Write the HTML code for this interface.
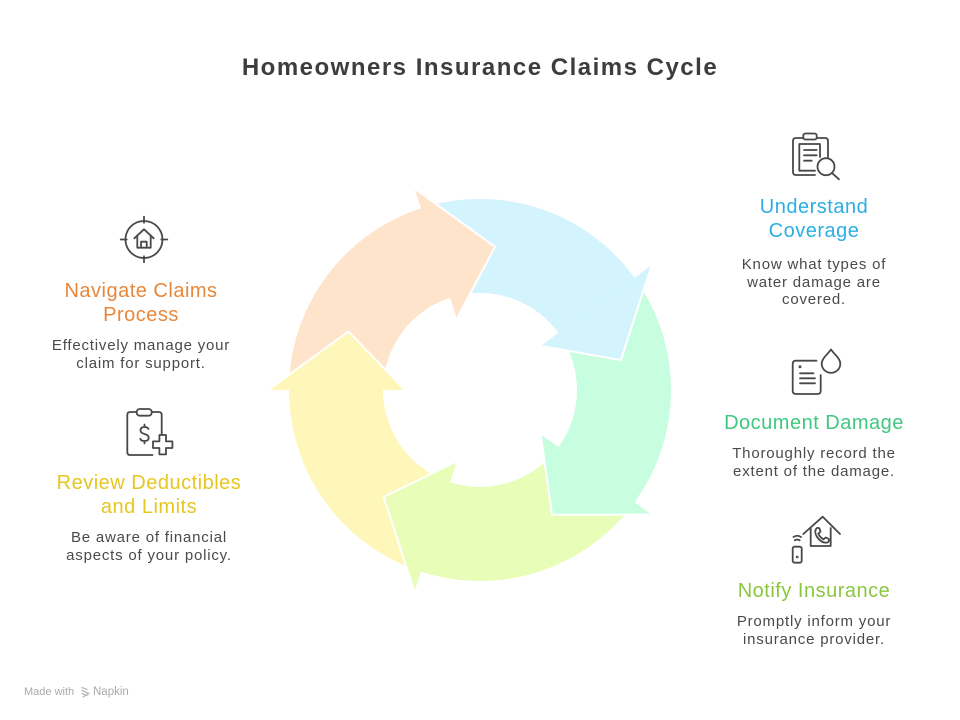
<!DOCTYPE html>
<html>
<head>
<meta charset="utf-8">
<style>
  html,body{margin:0;padding:0;background:#fff;}
  body{width:960px;height:720px;position:relative;overflow:hidden;font-family:"Liberation Sans",sans-serif;}
  svg{position:absolute;left:0;top:0;}
  .t{position:absolute;text-align:center;white-space:nowrap;}
  .title{left:0;width:960px;top:53px;font-size:24px;line-height:30px;font-weight:bold;color:#3d3d3d;letter-spacing:1.5px;}
  .h{font-size:20px;line-height:24px;letter-spacing:0.5px;}
  .d{font-size:15px;line-height:17.5px;letter-spacing:0.8px;color:#4a4a4a;}
  .r{left:694px;width:240px;}
  .l1{left:21px;width:240px;}
  .l2{left:29px;width:240px;}
</style>
</head>
<body>
<svg width="960" height="720" viewBox="0 0 960 720" xmlns="http://www.w3.org/2000/svg">
  <!-- bodies -->
  <path d="M420.98,208.35 A191,191 0 0 1 638.35,283.19 L560.42,335.76 A97,97 0 0 0 450.03,297.75 Z" fill="#d3f3fd"/>
  <path d="M634.52,277.73 A191,191 0 0 1 630.51,507.59 L556.44,449.72 A97,97 0 0 0 558.47,332.98 Z" fill="#c8fee0"/>
  <path d="M634.52,502.27 A191,191 0 0 1 414.67,569.48 L446.82,481.15 A97,97 0 0 0 558.47,447.02 Z" fill="#e8fdb8"/>
  <path d="M420.98,571.65 A191,191 0 0 1 289.12,383.33 L383.06,386.61 A97,97 0 0 0 450.03,482.25 Z" fill="#fff7b9"/>
  <path d="M289,390 A191,191 0 0 1 427.35,206.40 L453.26,296.76 A97,97 0 0 0 383,390 Z" fill="#ffe4cc"/>
  <!-- heads -->
  <polygon points="651.51,265.39 620.85,360.06 540.68,345.92" fill="#d3f3fd"/>
  <polyline points="651.51,265.39 620.85,360.06 540.68,345.92" fill="none" stroke="#fff" stroke-width="2"/>
  <polygon points="651.51,514.61 552,514.71 540.68,434.08" fill="#c8fee0"/>
  <polyline points="651.51,514.61 552,514.71 540.68,434.08" fill="none" stroke="#fff" stroke-width="2"/>
  <polygon points="414.49,591.62 383.65,497.01 456.82,461.33" fill="#e8fdb8"/>
  <polyline points="414.49,591.62 383.65,497.01 456.82,461.33" fill="none" stroke="#fff" stroke-width="2"/>
  <polygon points="268,390 348.45,331.43 405,390" fill="#fff7b9"/>
  <polyline points="268,390 348.45,331.43 405,390" fill="none" stroke="#fff" stroke-width="2"/>
  <polygon points="414.49,188.38 495.05,246.79 456.82,318.67" fill="#ffe4cc"/>
  <polyline points="414.49,188.38 495.05,246.79 456.82,318.67" fill="none" stroke="#fff" stroke-width="2"/>

  <g fill="none" stroke="#484848" stroke-width="1.8" stroke-linecap="round" stroke-linejoin="round">
    <!-- Icon: Understand Coverage -->
    <path d="M803,138 L796,138 Q793,138 793,141 L793,172 Q793,175 796,175 L815,175"/>
    <path d="M817,138 L825,138 Q828,138 828,141 L828,157"/>
    <rect x="803.3" y="133.5" width="13.4" height="6" rx="2"/>
    <path d="M815,170.7 L799.3,170.7 L799.3,144 L820,144 L820,157"/>
    <path d="M804,150 L816.7,150 M804,155.3 L816.7,155.3 M804,160.7 L811.7,160.7"/>
    <circle cx="826" cy="166.7" r="8.5"/>
    <path d="M832.3,173.3 L839,179.3"/>

    <!-- Icon: Document Damage -->
    <path d="M816.5,360.7 L796,360.7 Q792.7,360.7 792.7,364 L792.7,390.7 Q792.7,394 796,394 L817.4,394 Q820.7,394 820.7,390.7 L820.7,375"/>
    <circle cx="800" cy="366.7" r="0.6"/>
    <path d="M800,373.3 L813.5,373.3 M800,378.3 L815,378.3 M800,383.3 L815,383.3"/>
    <path d="M831,349.5 C827.5,354.5 821.7,358.5 821.7,363.6 A9.3,9.3 0 0 0 840.3,363.6 C840.3,358.5 834.5,354.5 831,349.5 Z"/>

    <!-- Icon: Notify Insurance -->
    <path d="M803.3,534 L822.7,516.7 L840,534"/>
    <path d="M810.7,528 L810.7,546 L830.7,546 L830.7,528"/>
    <path d="M816,529 Q817.5,527 819.5,528.5 L820.5,531.5 Q819.5,533 818.3,533.5 Q820,537.5 823.5,539.3 Q824.5,538 826,537.5 L828.8,539 Q829.5,541.5 827.5,542.5 Q821,543.5 816.5,536 Q814.3,532 816,529 Z"/>
    <rect x="792.7" y="546.7" width="9" height="16" rx="1.8"/>
    <circle cx="797.2" cy="557" r="0.5"/>
    <path d="M793.5,537 Q797.2,534.5 801,537 M794.8,540.3 Q797.2,538.8 799.7,540.3"/>

    <!-- Icon: Navigate Claims Process -->
    <circle cx="144" cy="239.5" r="18.5"/>
    <path d="M144,216.7 L144,222.7 M144,256.3 L144,262.3 M120.7,239.5 L126.7,239.5 M161.3,239.5 L167.3,239.5"/>
    <path d="M134.3,238.3 L144,229.3 L153.7,238.3"/>
    <path d="M137.3,235.5 L137.3,247.7 L150.7,247.7 L150.7,235.5"/>
    <path d="M141,247.7 L141,241.7 L146.7,241.7 L146.7,247.7"/>

    <!-- Icon: Review Deductibles -->
    <path d="M136.5,412 L130.3,412 Q127.3,412 127.3,415 L127.3,452 Q127.3,455 130.3,455 L152.5,455"/>
    <path d="M152,412 L158.7,412 Q161.7,412 161.7,415 L161.7,434"/>
    <rect x="136.7" y="409" width="15" height="6.7" rx="3"/>
    <path d="M159.4,435 L166,435 L166,441.4 L172.4,441.4 L172.4,448 L166,448 L166,454.4 L159.4,454.4 L159.4,448 L153,448 L153,441.4 L159.4,441.4 Z"/>
    <path d="M144.5,424.5 L144.5,427 M144.5,441 L144.5,443.5"/>
    <path d="M148.5,429 Q147.5,427 144.5,427 Q140.5,427 140.5,430.3 Q140.5,433 144.5,434 Q148.7,435 148.7,438 Q148.7,441 144.5,441 Q141,441 140.3,438.8"/>

    <!-- footer logo -->
    <g stroke="#b8b8b8" stroke-width="1.3">
      <path d="M82,687.5 L87,689.5 M82,690.5 L89,693.5 M82,693.5 L87,695.5 M83,697 L88,694"/>
    </g>
  </g>
</svg>

<div class="t title">Homeowners Insurance Claims Cycle</div>

<div class="t h r" style="top:195px;color:#2aaee3;">Understand<br>Coverage</div>
<div class="t d r" style="top:256px;">Know what types of<br>water damage are<br>covered.</div>

<div class="t h r" style="top:411px;color:#3ec880;">Document Damage</div>
<div class="t d r" style="top:445px;">Thoroughly record the<br>extent of the damage.</div>

<div class="t h r" style="top:579px;color:#8cc63f;">Notify Insurance</div>
<div class="t d r" style="top:613px;">Promptly inform your<br>insurance provider.</div>

<div class="t h l1" style="top:279px;color:#e8873a;">Navigate Claims<br>Process</div>
<div class="t d l1" style="top:337px;">Effectively manage your<br>claim for support.</div>

<div class="t h l2" style="top:471px;color:#e6c620;">Review Deductibles<br>and Limits</div>
<div class="t d l2" style="top:529px;">Be aware of financial<br>aspects of your policy.</div>

<div class="t" style="left:24px;top:685px;font-size:11px;line-height:14px;color:#aaaaaa;text-align:left;">Made with</div>
<div class="t" style="left:93px;top:685px;font-size:11.5px;line-height:14px;color:#aaaaaa;text-align:left;">Napkin</div>
</body>
</html>
